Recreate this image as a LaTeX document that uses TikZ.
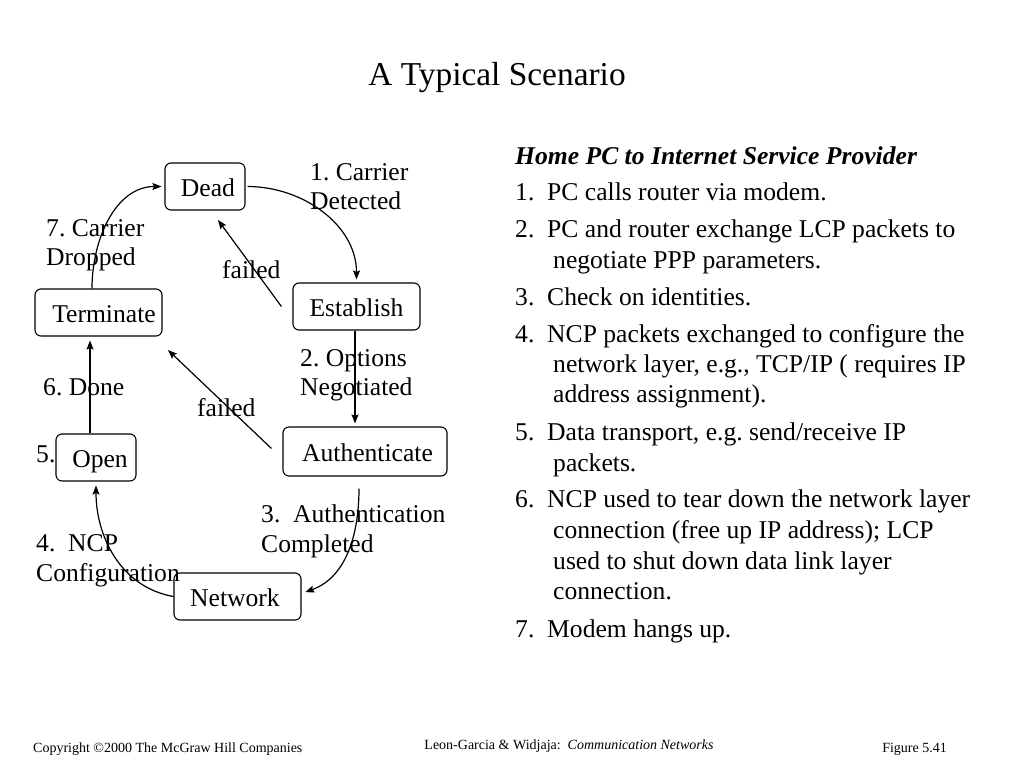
\documentclass[tikz,border=0pt]{standalone}
\usepackage{fontspec}
\setmainfont{Liberation Serif}
\usetikzlibrary{arrows.meta,calc}
\begin{document}
\frenchspacing
\begin{tikzpicture}[x=1pt,y=1pt,
  box/.style={draw,rounded corners=6pt,line width=1.1pt,inner sep=0pt,
    text height=19pt,text depth=0pt,font=\fontsize{25.6}{30}\selectfont},
  lbl/.style={anchor=base west,inner sep=0pt,font=\fontsize{25.6}{30}\selectfont},
  foot/.style={inner sep=0pt,font=\fontsize{14}{16}\selectfont},
  arr/.style={line width=1.2pt,-{Stealth[length=9pt,width=7pt,inset=1.5pt]}}]
\useasboundingbox (0,0) rectangle (1024,-768);

% title
\node[anchor=base,inner sep=0pt,font=\fontsize{33.4}{40}\selectfont] (title) at (497,-85) {A Typical Scenario};

% state boxes
\node[box,minimum width=80pt,minimum height=47pt] (dead) at (205,-186.5) {\hspace*{6pt}Dead};
\node[box,minimum width=127pt,minimum height=47pt] (est) at (356.5,-306.5) {Establish};
\node[box,minimum width=127pt,minimum height=47pt] (term) at (98.5,-312.5) {\hspace*{11pt}Terminate};
\node[box,minimum width=164pt,minimum height=49pt] (auth) at (365,-451.5) {\hspace*{5pt}Authenticate};
\node[box,minimum width=80pt,minimum height=47pt] (open) at (96,-457.5) {\hspace*{8pt}Open};
\node[box,minimum width=127pt,minimum height=47pt] (net) at (237.5,-596.5) {\hspace*{-5pt}Network};

% connectors
\draw[arr,shorten <=2pt,shorten >=3pt] (dead.east) to[out=0,in=90] (est.north);
\draw[arr,shorten >=3pt] ([xshift=-1.5pt]est.south) -- ([xshift=-1.5pt]est.south |- auth.north);
\draw[arr,shorten <=12pt,shorten >=4pt] ([xshift=-6pt]auth.south) to[out=-90,in=20] ([yshift=3pt]net.east);
\draw[arr,shorten >=4pt] (net.west) to[out=170,in=-90] (open.south);
\draw[arr,shorten >=4pt] ([xshift=-6pt]open.north) -- ([xshift=-6pt]open.north |- term.south);
\draw[arr,shorten >=3pt] ([xshift=-6.5pt]term.north) to[out=90,in=180] (dead.west);
\coordinate (f1) at (218,-220);
\coordinate (f2) at (168,-350);
\draw[arr] ([xshift=-11pt]est.west) -- (f1);
\draw[arr] ([xshift=-11pt,yshift=3pt]auth.west) -- (f2);

% diagram labels
\node[lbl] (l1a) at (310,-180) {1. Carrier};
\node[lbl] (l1b) at (310,-209) {Detected};
\node[lbl] (l7a) at (46,-236) {7. Carrier};
\node[lbl] (l7b) at (46,-265) {Dropped};
\node[lbl] (fa1) at (222,-278) {failed};
\node[lbl] (l2a) at (300,-366) {2. Options};
\node[lbl] (l2b) at (300,-395) {Negotiated};
\node[lbl] (l6) at (43,-395) {6. Done};
\node[lbl] (fa2) at (197,-416) {failed};
\node[lbl] (l5) at (36,-462) {5.};
\node[lbl] (l3a) at (261,-522) {3.\ \ Authentication};
\node[lbl] (l3b) at (261,-552) {Completed};
\node[lbl] (l4a) at (36,-551) {4.\ \ NCP};
\node[lbl] (l4b) at (36,-581) {Configuration};

% right-hand text
\node[lbl,font=\fontsize{25.6}{30}\selectfont\bfseries\itshape] (r0) at (515,-164) {Home PC to Internet Service Provider};
\node[lbl] (r1) at (515,-200) {1.\ \ PC calls router via modem.};
\node[lbl] (r2) at (515,-237) {2.\ \ PC and router exchange LCP packets to};
\node[lbl] (r3) at (553,-268) {negotiate PPP parameters.};
\node[lbl] (r4) at (515,-305) {3.\ \ Check on identities.};
\node[lbl] (r5) at (515,-342) {4.\ \ NCP packets exchanged to configure the};
\node[lbl] (r6) at (553,-372) {network layer, e.g., TCP/IP ( requires IP};
\node[lbl] (r7) at (553,-402) {address assignment).};
\node[lbl] (r8) at (515,-440) {5.\ \ Data transport, e.g. send/receive IP};
\node[lbl] (r9) at (553,-471) {packets.};
\node[lbl] (r10) at (515,-507) {6.\ \ NCP used to tear down the network layer};
\node[lbl] (r11) at (553,-538) {connection (free up IP address); LCP};
\node[lbl] (r12) at (553,-569) {used to shut down data link layer};
\node[lbl] (r13) at (553,-599) {connection.};
\node[lbl] (r14) at (515,-637) {7.\ \ Modem hangs up.};

% footer
\node[foot,anchor=base west] (ft1) at (33,-752) {Copyright ©2000 The McGraw Hill Companies};
\node[foot,anchor=base] (ft2) at (569,-749) {Leon-Garcia \& Widjaja:\ \ \textit{Communication Networks}};
\node[foot,anchor=base east] (ft3) at (947,-752) {Figure 5.41};
\end{tikzpicture}
\end{document}
